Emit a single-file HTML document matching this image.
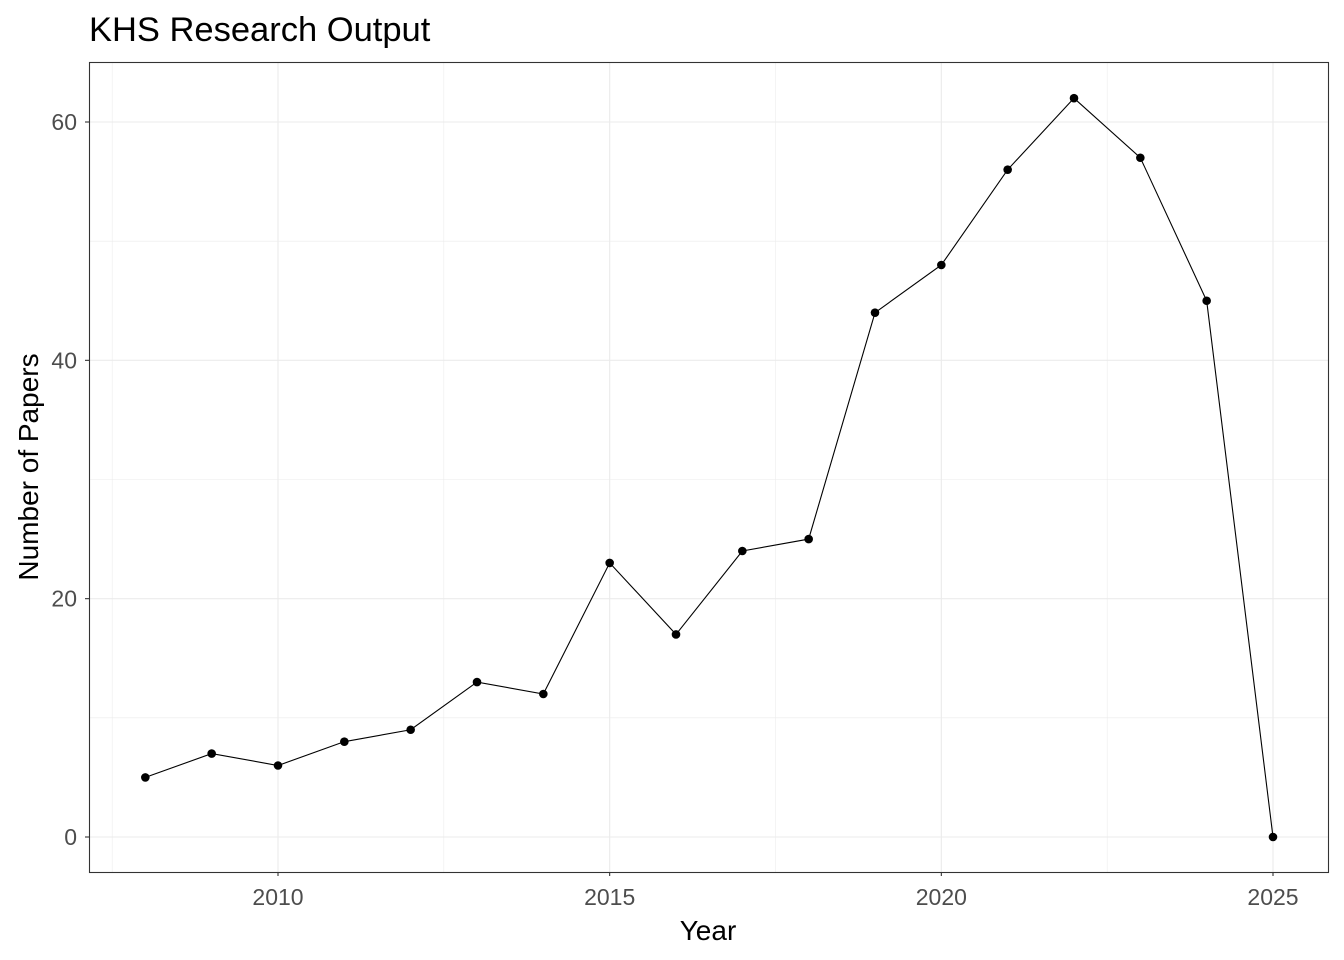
<!DOCTYPE html>
<html><head><meta charset="utf-8"><style>
body{margin:0;background:#fff;}
svg{display:block;font-family:"Liberation Sans",Arial,sans-serif;}
</style></head><body>
<svg id="chart" width="1344" height="960">
<text x="89" y="41" font-size="34.5" fill="#000">KHS Research Output</text>
<g id="grid"></g>
<g id="marks"></g>
<rect x="89.5" y="62.5" width="1239" height="810" fill="none" stroke="#333" stroke-width="1.1"/>
<g id="axes"></g>
<text x="708" y="940" font-size="28" text-anchor="middle">Year</text>
<text transform="translate(38,467) rotate(-90)" font-size="28" text-anchor="middle">Number of Papers</text>
</svg>
<script>
const years=[2008,2009,2010,2011,2012,2013,2014,2015,2016,2017,2018,2019,2020,2021,2022,2023,2024,2025];
const papers=[5,7,6,8,9,13,12,23,17,24,25,44,48,56,62,57,45,0];
const xTicks=[2010,2015,2020,2025];
const yTicks=[0,20,40,60];
const ns="http://www.w3.org/2000/svg";
const x=v=>278+(v-2010)*(1273-278)/15;
const y=v=>837-v*(837-122)/60;
function mk(tag,attrs,parent){const e=document.createElementNS(ns,tag);for(const k in attrs)e.setAttribute(k,attrs[k]);parent.appendChild(e);return e;}
const grid=document.getElementById('grid'),marks=document.getElementById('marks'),axes=document.getElementById('axes');
for(let v=2007.5;v<=2025.5;v+=2.5){const isMajor=xTicks.includes(v);
 const l=mk('line',{x1:x(v),x2:x(v),y1:63,y2:872,stroke:'#ebebeb','stroke-width':isMajor?1.1:0.55},grid);
 
 }
for(let v=-10;v<=70;v+=10){const yy=y(v);if(yy<63||yy>872)continue;const isMajor=yTicks.includes(v);
 const l=mk('line',{x1:90,x2:1328,y1:yy,y2:yy,stroke:'#ebebeb','stroke-width':isMajor?1.1:0.55},grid);
 
 }
const line=mk('polyline',{points:years.map((yr,i)=>x(yr)+','+y(papers[i])).join(' '),fill:'none',stroke:'#000','stroke-width':1.1},marks);


years.forEach((yr,i)=>{const c=mk('circle',{cx:x(yr),cy:y(papers[i]),r:4.3,fill:'#000'},marks);
 
 });
xTicks.forEach(v=>{const t=mk('line',{x1:x(v),x2:x(v),y1:872,y2:876,stroke:'#333','stroke-width':1.1},axes);
 
 
 const tx=mk('text',{x:x(v),y:905,'font-size':23,fill:'#4d4d4d','text-anchor':'middle'},axes);tx.textContent=v;
 
 });
yTicks.forEach(v=>{const t=mk('line',{x1:85,x2:89,y1:y(v),y2:y(v),stroke:'#333','stroke-width':1.1},axes);
 
 
 const tx=mk('text',{x:77,y:y(v)+8,'font-size':23,fill:'#4d4d4d','text-anchor':'end'},axes);tx.textContent=v;
 
 });
</script>
</body></html>
